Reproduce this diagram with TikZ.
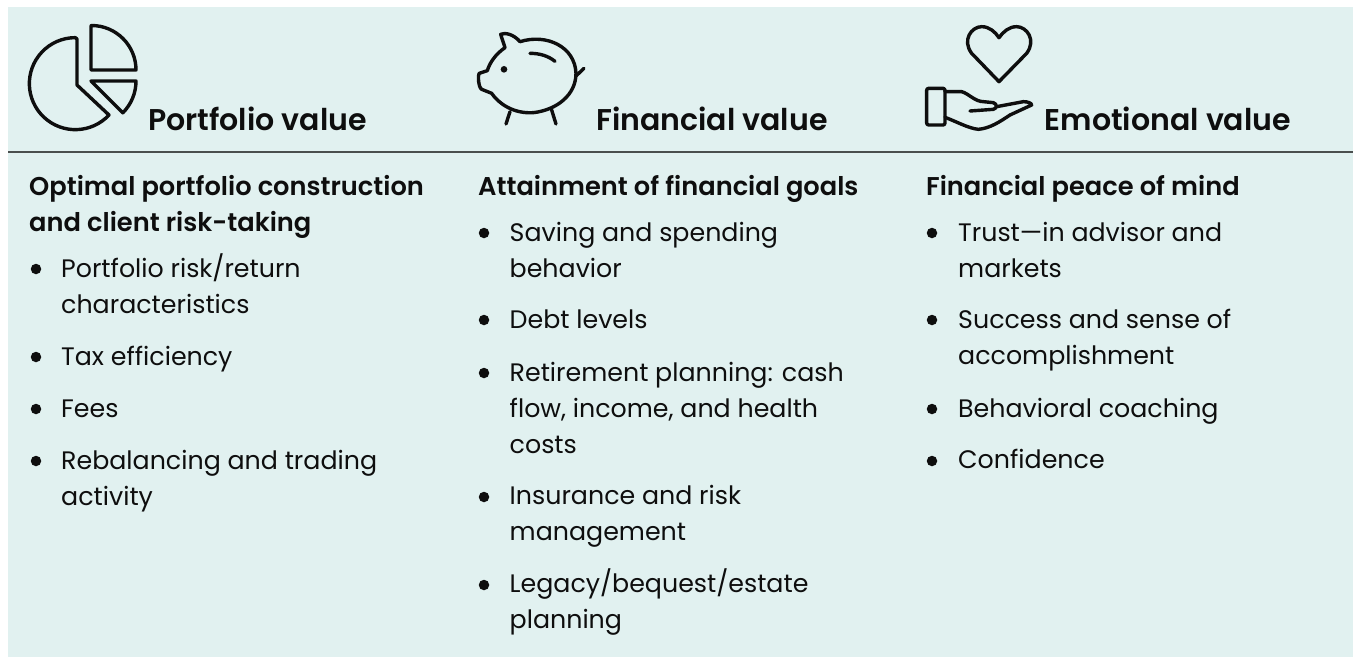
\documentclass[tikz,border=0pt]{standalone}
\usepackage{fontspec}
\setmainfont{Poppins}[BoldFont={Poppins SemiBold}]
\definecolor{panel}{HTML}{E1F1F0}
\definecolor{ink}{HTML}{0E0E0E}
\definecolor{rulec}{HTML}{4A4F4E}
\newcommand{\fl}{\rule{0pt}{24pt}}
\tikzset{
  head/.style={anchor=base west,inner sep=0pt,font=\fontsize{30}{30}\selectfont\bfseries,text=ink},
  sub/.style={anchor=north west,inner sep=0pt,align=left,font=\fontsize{25.7}{36}\selectfont\bfseries,text=ink},
  itm/.style={anchor=north west,inner sep=0pt,align=left,font=\fontsize{25.3}{36}\selectfont,text=ink},
  bul/.style={circle,fill=ink,inner sep=0pt,minimum size=10.5pt},
  icon/.style={draw=ink,line width=3.4pt,line join=round,line cap=round}
}
\begin{document}
\begin{tikzpicture}[x=1pt,y=-1pt]
\useasboundingbox (0,0) rectangle (1353,657);
\fill[panel] (8,7) rectangle (1353,657);
\draw[rulec,line width=1.2pt] (8,152) -- (1353,152);
% pie icon
\draw[icon] (77,39) -- (77,85) -- (109,115) arc[start angle=43,end angle=270,radius=46] -- cycle;
\draw[icon] (91,26) -- (91,70) -- (136,70) arc[start angle=0,end angle=-90,radius=44.5] -- cycle;
\draw[icon] (91,81) -- (136,81) arc[start angle=0,end angle=45,radius=45] -- cycle;
% piggy icon
\begin{scope}[shift={(450,0)},x=0.3333pt,y=-0.3333pt]
\draw[icon] (152,103) .. controls (165,97) and (190,102) .. (210,125)
  .. controls (290,100) and (375,140) .. (378,220)
  .. controls (378,285) and (320,330) .. (250,338)
  .. controls (190,342) and (145,310) .. (125,280)
  -- (95,268) .. controls (85,262) and (83,225) .. (88,220) -- (112,212)
  .. controls (120,185) and (140,160) .. (165,143) -- cycle;
\draw[icon] (378,228) -- (402,205);
\draw[icon] (180,335) -- (168,372);
\draw[icon] (305,330) -- (318,372);
\draw[icon] (240,160) .. controls (270,160) and (295,168) .. (315,184);
\fill[ink] (162,208) circle[radius=10];
\end{scope}
% heart and hand icon
\begin{scope}[shift={(900,0)},x=0.3333pt,y=-0.3333pt]
\draw[icon] (297,245) -- (215,160) .. controls (185,120) and (215,80) .. (245,80)
  .. controls (268,80) and (285,95) .. (297,113)
  .. controls (310,95) and (327,80) .. (350,80)
  .. controls (380,80) and (410,120) .. (380,160) -- cycle;
\draw[icon,rounded corners=2pt] (80,265) rectangle (135,375);
\draw[icon] (135,275) -- (185,275) .. controls (205,280) and (225,305) .. (250,305)
  -- (280,308) .. controls (292,312) and (292,325) .. (280,328) -- (210,333);
\draw[icon] (290,320) -- (370,305) .. controls (385,305) and (395,310) .. (395,315)
  -- (330,345) .. controls (300,365) and (270,385) .. (235,388)
  .. controls (205,385) and (170,365) .. (135,352);
\end{scope}
% headers
\node[head] (h1) at (148,130) {Portfolio value};
\node[head] (h2) at (596,130) {Financial value};
\node[head] (h3) at (1044.5,130) {Emotional value};
% column 1
\node[sub] (a0) at (29,171) {\fl Optimal portfolio construction\\and client risk-taking};
\node[bul] at (36,269) {}; \node[itm] (a1) at (61,253) {\fl Portfolio risk/return\\characteristics};
\node[bul] at (36,357) {}; \node[itm] (a2) at (61,341) {\fl Tax efficiency};
\node[bul] at (36,409) {}; \node[itm] (a3) at (61,393) {\fl Fees};
\node[bul] at (36,461) {}; \node[itm] (a4) at (61,445) {\fl Rebalancing and trading\\activity};
% column 2
\node[sub] (b0) at (478,171) {\fl Attainment of financial goals};
\node[bul] at (484,233) {}; \node[itm] (b1) at (509.5,217) {\fl Saving and spending\\behavior};
\node[bul] at (484,320) {}; \node[itm] (b2) at (509.5,304) {\fl Debt levels};
\node[bul] at (484,373) {}; \node[itm] (b3) at (509.5,357) {\fl Retirement planning: cash\\flow, income, and health\\costs};
\node[bul] at (484,497) {}; \node[itm] (b4) at (509.5,480) {\fl Insurance and risk\\management};
\node[bul] at (484,585) {}; \node[itm] (b5) at (509.5,568) {\fl Legacy/bequest/estate\\planning};
% column 3
\node[sub] (c0) at (926,171) {\fl Financial peace of mind};
\node[bul] at (932,233) {}; \node[itm] (c1) at (958,217) {\fl Trust—in advisor and\\markets};
\node[bul] at (932,320) {}; \node[itm] (c2) at (958,304) {\fl Success and sense of\\accomplishment};
\node[bul] at (932,409) {}; \node[itm] (c3) at (958,393) {\fl Behavioral coaching};
\node[bul] at (932,461) {}; \node[itm] (c4) at (958,444) {\fl Confidence};
\end{tikzpicture}
\end{document}
